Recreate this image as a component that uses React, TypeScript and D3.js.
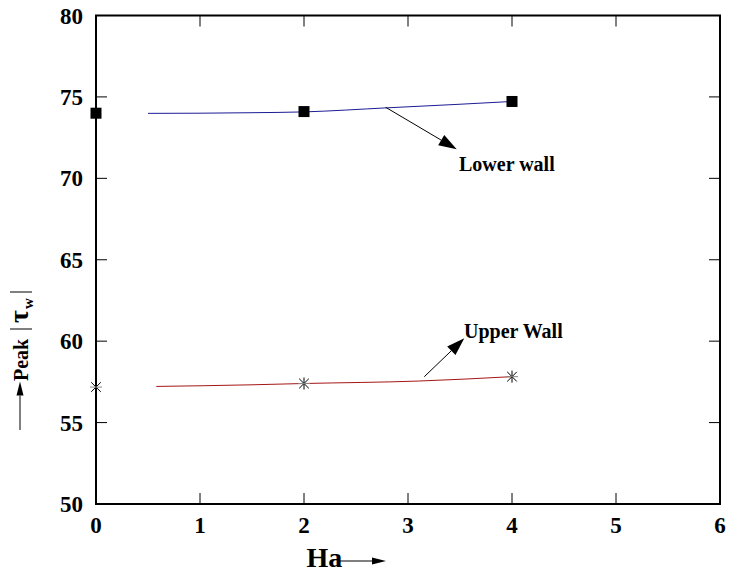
import React from "react";
import * as d3 from "d3";

const haTicks = [0, 1, 2, 3, 4, 5, 6];
const tauTicks = [50, 55, 60, 65, 70, 75, 80];

const lowerMarkersHa = [0, 2, 4];
const lowerMarkersTau = [74.0, 74.1, 74.72];
const upperMarkersHa = [0, 2, 4];
const upperMarkersTau = [57.18, 57.4, 57.82];

const lowerCurveHa = [0.5, 1, 1.5, 2, 2.8, 3.5, 4];
const lowerCurveTau = [73.99, 74.0, 74.03, 74.08, 74.33, 74.55, 74.72];
const upperCurveHa = [0.58, 1.5, 2, 3.1, 4];
const upperCurveTau = [57.22, 57.32, 57.4, 57.55, 57.82];

const W = 732, H = 573;
const L = 96, R = 720, T = 15.5, B = 504;
const FONT = "Liberation Serif, Times New Roman, DejaVu Serif, serif";

export default function App() {
  const x = d3.scaleLinear().domain([0, 6]).range([L, R]);
  const y = d3.scaleLinear().domain([50, 80]).range([B, T]);
  const line = d3.line<[number, number]>().x(d => x(d[0])).y(d => y(d[1])).curve(d3.curveMonotoneX);
  const lowerPts = lowerCurveHa.map((h, i) => [h, lowerCurveTau[i]] as [number, number]);
  const upperPts = upperCurveHa.map((h, i) => [h, upperCurveTau[i]] as [number, number]);

  const arrow = (x1: number, y1: number, x2: number, y2: number, len = 18, wid = 6) => {
    const a = Math.atan2(y2 - y1, x2 - x1);
    const bx = x2 - len * Math.cos(a), by = y2 - len * Math.sin(a);
    const px = -Math.sin(a) * wid, py = Math.cos(a) * wid;
    return (
      <g>
        <line x1={x1} y1={y1} x2={bx} y2={by} stroke="#000" strokeWidth={1} />
        <path d={`M${x2},${y2}L${bx + px},${by + py}L${bx - px},${by - py}Z`} fill="#000" />
      </g>
    );
  };

  const star = (cx: number, cy: number, k: string) => {
    const r = 6;
    const d = r * 0.8;
    return (
      <g key={k} stroke="#000" strokeWidth={1}>
        <line x1={cx} y1={cy - r} x2={cx} y2={cy + r} />
        <line x1={cx - d} y1={cy - d} x2={cx + d} y2={cy + d} />
        <line x1={cx - d} y1={cy + d} x2={cx + d} y2={cy - d} />
        <line x1={cx - r} y1={cy} x2={cx + r} y2={cy} stroke="#888" />
      </g>
    );
  };

  const ts = { fontFamily: FONT, fontWeight: "bold" as const };

  return (
    <svg width={W} height={H} style={{ position: "absolute", left: 0, top: 0, background: "#fff" }}>
      <rect x={L} y={T} width={R - L} height={B - T} fill="none" stroke="#000" strokeWidth={2} />
      {haTicks.slice(1, -1).map(t => (
        <g key={"xt" + t} stroke="#000" strokeWidth={1}>
          <line x1={x(t)} x2={x(t)} y1={B} y2={B - 11} />
          <line x1={x(t)} x2={x(t)} y1={T} y2={T + 11} />
        </g>
      ))}
      {tauTicks.slice(1, -1).map(t => (
        <g key={"yt" + t} stroke="#000" strokeWidth={1}>
          <line x1={L} x2={L + 11} y1={y(t)} y2={y(t)} />
          <line x1={R} x2={R - 11} y1={y(t)} y2={y(t)} />
        </g>
      ))}
      {haTicks.map(t => (
        <text key={"xl" + t} x={x(t)} y={533} textAnchor="middle" fontSize={23} style={ts}>{t}</text>
      ))}
      {tauTicks.map(t => (
        <text key={"yl" + t} x={83} y={y(t) + 8} textAnchor="end" fontSize={23} style={ts}>{t}</text>
      ))}
      <path d={line(lowerPts) || ""} fill="none" stroke="#1c1c94" strokeWidth={1} />
      <path d={line(upperPts) || ""} fill="none" stroke="#a51515" strokeWidth={1} />
      {lowerMarkersHa.map((h, i) => (
        <rect key={"sq" + i} x={x(h) - 5.5} y={y(lowerMarkersTau[i]) - 5.5} width={11} height={11} fill="#000" />
      ))}
      {upperMarkersHa.map((h, i) => star(x(h), y(upperMarkersTau[i]), "st" + i))}
      {arrow(385.7, 107.3, 456.7, 149.3)}
      <text x={459} y={170.5} fontSize={20} style={ts}>Lower wall</text>
      {arrow(424.3, 376.7, 464.3, 338.3)}
      <text x={464} y={337.5} fontSize={20} style={ts}>Upper Wall</text>
      <text x={306.5} y={566.5} fontSize={28} style={ts}>Ha</text>
      {arrow(338, 561, 386, 561, 14, 3.5)}
      {arrow(20, 430, 20, 381.5, 14, 3.5)}
      <g transform="translate(28,381) rotate(-90)">
        <text x={0} y={0} fontSize={20} style={ts}>Peak</text>
        <line x1={52} x2={52} y1={-18} y2={4} stroke="#000" strokeWidth={1} />
        <text x={58} y={0} fontSize={28} style={ts}>τ</text>
        <text x={72} y={5} fontSize={15} style={ts}>w</text>
        <line x1={89} x2={89} y1={-18} y2={4} stroke="#000" strokeWidth={1} />
      </g>
    </svg>
  );
}
